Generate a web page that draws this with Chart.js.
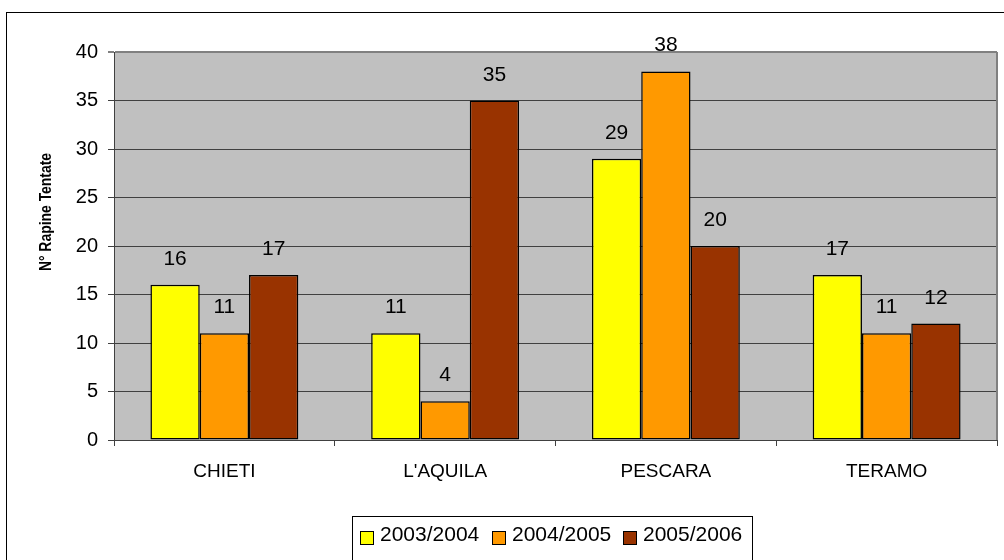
<!DOCTYPE html>
<html>
<head>
<meta charset="utf-8">
<script src="https://cdn.jsdelivr.net/npm/chart.js@4/dist/chart.umd.min.js"></script>
<style>
  html, body { margin: 0; padding: 0; background: #ffffff; }
  canvas { display: block; }
</style>
</head>
<body>
<canvas id="c" width="1004" height="560"></canvas>
<script>
// Province categories and yearly counts of attempted robberies
const categories = ['CHIETI', "L'AQUILA", 'PESCARA', 'TERAMO'];
const seriesNames = ['2003/2004', '2004/2005', '2005/2006'];
const values2003 = [16, 11, 29, 17];
const values2004 = [11, 4, 38, 11];
const values2005 = [17, 35, 20, 12];
const yMin = 0;
const yMax = 40;
const yStep = 5;
const yTitle = 'N° Rapine Tentate';

const colors = ['#FFFF00', '#FF9900', '#993300'];
const FONT = '"Liberation Sans", Arial, sans-serif';

// Page background, grey plot area, and the right edge of the plot frame
const backdrop = {
  id: 'backdrop',
  beforeDraw(chart) {
    const { ctx, chartArea: a } = chart;
    ctx.save();
    ctx.fillStyle = '#ffffff';
    ctx.fillRect(0, 0, chart.width, chart.height);
    ctx.fillStyle = '#c0c0c0';
    ctx.fillRect(a.left, a.top, a.right - a.left, a.bottom - a.top);
    ctx.restore();
  },
  afterDraw(chart) {
    const { ctx, chartArea: a } = chart;
    ctx.save();
    // right side of the plot frame
    ctx.strokeStyle = '#808080';
    ctx.lineWidth = 2;
    ctx.beginPath();
    ctx.moveTo(a.right, a.top);
    ctx.lineTo(a.right, a.bottom);
    ctx.stroke();

    // outer chart frame
    ctx.strokeStyle = '#000000';
    ctx.lineWidth = 1;
    ctx.strokeRect(6.5, 12.5, chart.width + 20, chart.height + 20);

    // y axis title (slightly condensed along its length)
    ctx.fillStyle = '#000000';
    ctx.font = 'bold 16px ' + FONT;
    ctx.textAlign = 'center';
    ctx.textBaseline = 'middle';
    ctx.translate(47, 212);
    ctx.scale(1, 0.87);
    ctx.rotate(-Math.PI / 2);
    ctx.fillText(yTitle, 0, 0);
    ctx.restore();

    // legend box
    ctx.save();
    ctx.strokeStyle = '#000000';
    ctx.lineWidth = 1;
    ctx.strokeRect(352.5, 516.5, 400, 60);
    const swatchX = [360, 492, 623];
    ctx.font = '21px ' + FONT;
    ctx.textBaseline = 'middle';
    ctx.textAlign = 'left';
    seriesNames.forEach((name, i) => {
      ctx.fillStyle = colors[i];
      ctx.fillRect(swatchX[i], 531, 14, 14);
      ctx.strokeStyle = '#000000';
      ctx.lineWidth = 1;
      ctx.strokeRect(swatchX[i] + 0.5, 531.5, 13, 13);
      ctx.fillStyle = '#000000';
      ctx.fillText(name, swatchX[i] + 20, 535);
    });
    ctx.restore();
  }
};

// Value written above each bar
const valueLabels = {
  id: 'valueLabels',
  afterDatasetsDraw(chart) {
    const { ctx } = chart;
    ctx.save();
    ctx.font = '21px ' + FONT;
    ctx.fillStyle = '#000000';
    ctx.textAlign = 'center';
    ctx.textBaseline = 'alphabetic';
    chart.data.datasets.forEach((ds, di) => {
      const meta = chart.getDatasetMeta(di);
      meta.data.forEach((bar, i) => {
        ctx.fillText(String(ds.data[i]), bar.x, bar.y - 20);
      });
    });
    ctx.restore();
  }
};

new Chart(document.getElementById('c'), {
  type: 'bar',
  data: {
    labels: categories,
    datasets: [
      { label: seriesNames[0], data: values2003, backgroundColor: colors[0] },
      { label: seriesNames[1], data: values2004, backgroundColor: colors[1] },
      { label: seriesNames[2], data: values2005, backgroundColor: colors[2] }
    ]
  },
  options: {
    responsive: false,
    animation: false,
    devicePixelRatio: 1,
    layout: { padding: { left: 0, top: 52, right: 7, bottom: 60 } },
    datasets: {
      bar: {
        borderColor: '#000000',
        borderWidth: 1.5,
        borderSkipped: false,
        categoryPercentage: 0.67,
        barPercentage: 1.0
      }
    },
    plugins: {
      legend: { display: false },
      tooltip: { enabled: false }
    },
    scales: {
      x: {
        offset: true,
        grid: {
          offset: true,
          drawOnChartArea: false,
          drawTicks: true,
          tickLength: 6,
          color: '#404040'
        },
        border: { display: true, color: '#404040', width: 1 },
        ticks: {
          color: '#000000',
          font: { family: FONT, size: 19 },
          padding: 14,
          maxRotation: 0
        },
        afterFit(scale) { scale.height = 60; }
      },
      y: {
        min: yMin,
        max: yMax,
        ticks: {
          stepSize: yStep,
          color: '#000000',
          font: { family: FONT, size: 20 },
          padding: 10
        },
        grid: {
          tickLength: 6,
          color: (c) => (c.tick && c.tick.value === yMax ? '#808080' : '#404040'),
          lineWidth: (c) => (c.tick && c.tick.value === yMax ? 2 : 1)
        },
        border: { display: true, color: '#404040', width: 1 },
        afterFit(scale) { scale.width = 114; }
      }
    }
  },
  plugins: [backdrop, valueLabels]
});
</script>
</body>
</html>
